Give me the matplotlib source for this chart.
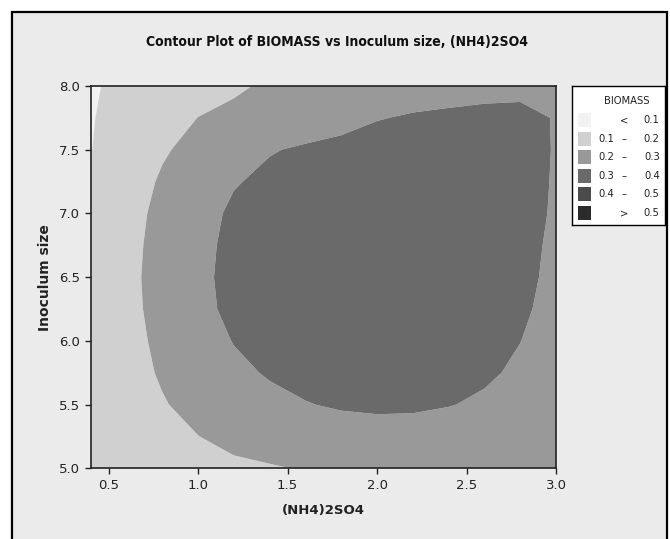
import numpy as np
import matplotlib
matplotlib.use("Agg")
import matplotlib.pyplot as plt
from matplotlib.patches import Rectangle
from matplotlib import font_manager

# grid
nh4 = [0.4, 0.6, 0.8, 1.0, 1.2, 1.4, 1.6, 1.8, 2.0, 2.2, 2.4, 2.6, 2.8, 3.0]
inoculum = [5.0, 5.25, 5.5, 5.75, 6.0, 6.25, 6.5, 6.75, 7.0, 7.25, 7.5, 7.75, 8.0]

# biomass estimates, one row per inoculum value (bottom to top)
biomass = [
    [0.115, 0.138, 0.157, 0.172, 0.185, 0.193, 0.205, 0.213, 0.219, 0.221, 0.219, 0.215, 0.210, 0.203],
    [0.119, 0.150, 0.177, 0.199, 0.222, 0.242, 0.256, 0.266, 0.270, 0.268, 0.262, 0.255, 0.245, 0.233],
    [0.122, 0.159, 0.194, 0.226, 0.255, 0.280, 0.297, 0.308, 0.313, 0.312, 0.303, 0.289, 0.272, 0.253],
    [0.124, 0.167, 0.209, 0.247, 0.283, 0.307, 0.321, 0.328, 0.332, 0.332, 0.327, 0.311, 0.288, 0.262],
    [0.125, 0.172, 0.219, 0.263, 0.303, 0.322, 0.333, 0.340, 0.344, 0.345, 0.341, 0.328, 0.301, 0.268],
    [0.125, 0.177, 0.227, 0.277, 0.320, 0.334, 0.343, 0.349, 0.353, 0.354, 0.351, 0.340, 0.313, 0.275],
    [0.124, 0.179, 0.230, 0.280, 0.325, 0.338, 0.347, 0.353, 0.357, 0.358, 0.356, 0.348, 0.322, 0.280],
    [0.121, 0.176, 0.227, 0.276, 0.322, 0.336, 0.345, 0.351, 0.355, 0.357, 0.356, 0.349, 0.325, 0.285],
    [0.116, 0.171, 0.221, 0.267, 0.315, 0.331, 0.341, 0.347, 0.351, 0.353, 0.352, 0.346, 0.325, 0.292],
    [0.103, 0.158, 0.210, 0.253, 0.294, 0.318, 0.330, 0.337, 0.341, 0.343, 0.342, 0.337, 0.322, 0.295],
    [0.098, 0.144, 0.191, 0.226, 0.259, 0.295, 0.310, 0.320, 0.327, 0.330, 0.330, 0.327, 0.318, 0.297],
    [0.0955, 0.130, 0.165, 0.201, 0.219, 0.238, 0.257, 0.276, 0.297, 0.306, 0.310, 0.312, 0.310, 0.298],
    [0.093, 0.117, 0.140, 0.164, 0.188, 0.212, 0.232, 0.248, 0.260, 0.270, 0.278, 0.285, 0.290, 0.287],
]

levels = [0.0, 0.1, 0.2, 0.3, 0.4, 0.5, 1.0]
grays = ["#f2f2f2", "#d0d0d0", "#999999", "#6a6a6a", "#4b4b4b", "#2b2b2b"]
bg = "#ebebeb"

fig = plt.figure(figsize=(6.7, 5.39), dpi=100, facecolor="white")
W, H = 670.0, 539.0

# grey panel with black frame
fig.patches.append(Rectangle((12 / W, -0.01), (667 - 12) / W, (527 + 5) / H,
                             transform=fig.transFigure, facecolor=bg,
                             edgecolor="black", lw=1.6, zorder=-5))

ax = fig.add_axes([90.7 / W, 1 - 468.3 / H, (556 - 90.7) / W, (468.3 - 86) / H])
ax.contourf(nh4, inoculum, np.array(biomass), levels=levels, colors=grays, antialiased=True)
ax.set_xlim(0.4, 3.0)
ax.set_ylim(5.0, 8.0)
ax.set_xticks(np.arange(0.5, 3.01, 0.5))
ax.set_yticks(np.arange(5.0, 8.01, 0.5))
ax.xaxis.set_major_formatter(matplotlib.ticker.FormatStrFormatter("%.1f"))
ax.yaxis.set_major_formatter(matplotlib.ticker.FormatStrFormatter("%.1f"))
ax.tick_params(direction="out", length=4, width=1, labelsize=9.5, colors="#222222")
for s in ax.spines.values():
    s.set_color("#222222")
    s.set_linewidth(1.2)

ax.set_xlabel("(NH4)2SO4", fontsize=9.5, fontweight="bold", labelpad=9, color="#222222")
ax.set_ylabel("Inoculum size", fontsize=10, fontweight="bold", labelpad=5, color="#222222")

# narrow face for the title if one is installed
names = set(f.name for f in font_manager.fontManager.ttflist)
if "Liberation Sans Narrow" in names:
    tfam, tsize = "Liberation Sans Narrow", 12.3
else:
    tfam, tsize = "DejaVu Sans", 10.0
fig.text(337 / W, 1 - 42 / H, "Contour Plot of BIOMASS vs Inoculum size, (NH4)2SO4",
         ha="center", va="center", fontsize=tsize, fontweight="bold",
         family=tfam, fontstretch="condensed", color="#111111")

# legend box
lx0, ly0, lw, lh = 571.7, 86.0, 93.0, 139.0
lax = fig.add_axes([lx0 / W, 1 - (ly0 + lh) / H, lw / W, lh / H])
lax.set_xlim(0, lw)
lax.set_ylim(lh, 0)
lax.set_xticks([])
lax.set_yticks([])
lax.set_facecolor("white")
for s in lax.spines.values():
    s.set_color("black")
    s.set_linewidth(1)

lax.text(55, 14.5, "BIOMASS", ha="center", va="center", fontsize=7.2, color="#222222")
lo = levels[:-1]
hi = levels[1:]
for i, c in enumerate(grays):
    yc = 34 + 18.6 * i
    lax.add_patch(Rectangle((6, yc - 7), 13.5, 14, facecolor=c, edgecolor="none"))
    if i == 0:
        lax.text(52, yc, "<", ha="center", va="center", fontsize=7.2, color="#222222")
        lax.text(88, yc, "%.1f" % hi[i], ha="right", va="center", fontsize=7.2, color="#222222")
    elif i == len(grays) - 1:
        lax.text(52, yc, ">", ha="center", va="center", fontsize=7.2, color="#222222")
        lax.text(88, yc, "%.1f" % lo[i], ha="right", va="center", fontsize=7.2, color="#222222")
    else:
        lax.text(27, yc, "%.1f" % lo[i], ha="left", va="center", fontsize=7.2, color="#222222")
        lax.text(52, yc, "\u2013", ha="center", va="center", fontsize=7.2, color="#222222")
        lax.text(88, yc, "%.1f" % hi[i], ha="right", va="center", fontsize=7.2, color="#222222")

fig.savefig("out.png", dpi=100, facecolor="white")
